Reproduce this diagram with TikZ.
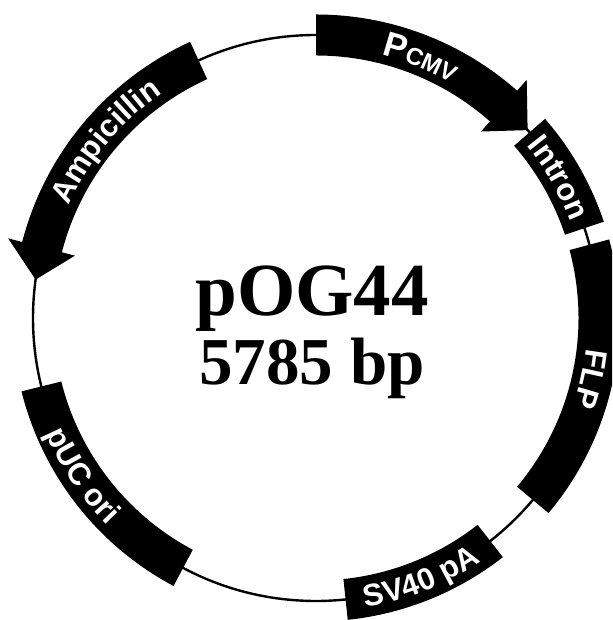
\documentclass[tikz,border=0pt]{standalone}
\usepackage{fontspec}
\setmainfont{Liberation Serif}
\setsansfont{Liberation Sans}
\usetikzlibrary{decorations.text}

\newcommand\rin{262.5pt}
\newcommand\rout{303.5pt}
\newcommand\rmid{283pt}
\newcommand\hin{249pt}
\newcommand\hout{318pt}
\newcommand\lbl{\color{white}\sffamily\bfseries\fontsize{31}{31}\selectfont}
\newcommand\lblP{\color{white}\sffamily\bfseries\fontsize{35}{35}\selectfont}
\newcommand\lblcmv{\color{white}\sffamily\bfseries\fontsize{24}{24}\selectfont}
\newcommand\featbox[2]{\fill (#1:\rin) arc[start angle=#1,end angle=#2,radius=\rin] -- (#2:\rout) arc[start angle=#2,end angle=#1,radius=\rout] -- cycle;}
\newcommand\featarrow[3]{\fill (#1:\rin) arc[start angle=#1,end angle=#2,radius=\rin] -- (#2:\hin) -- (#3:\rmid) -- (#2:\hout) -- (#2:\rout) arc[start angle=#2,end angle=#1,radius=\rout] -- cycle;}

\tikzset{
  backbone/.style={line width=2.4pt, draw=black},
  title/.style={inner sep=0pt, anchor=base, font=\bfseries},
  arclabel/.style={decorate, decoration={text along path, text align=center, text={#1}}}
}

\begin{document}
\begin{tikzpicture}
\useasboundingbox (0,0) rectangle (612pt,620pt);
\clip (0,0) rectangle (612pt,620pt);
\begin{scope}[shift={(316pt,302pt)}]
  \draw[backbone] (0,0) circle[radius=\rmid];
  % features
  \featarrow{90}{48.5}{41.6}     % PCMV
  \featbox{41}{18.5}             % Intron
  \featbox{15}{-40}              % FLP
  \featbox{-52}{-84}             % SV40 pA
  \featbox{-118}{-166}           % pUC ori
  \featarrow{114.5}{165.5}{172.2}% Ampicillin
  % labels
  \path[arclabel={|\lblP|P|\lblcmv|CMV}] (90:271pt) arc[start angle=90,end angle=46,radius=271pt];
  \path[arclabel={|\lbl|Intron}] (42:272pt) arc[start angle=42,end angle=18,radius=272pt];
  \path[arclabel={|\lbl|FLP}] (10:272pt) arc[start angle=10,end angle=-35,radius=272pt];
  \path[arclabel={|\lbl|SV40 pA}] (-90:294pt) arc[start angle=-90,end angle=-46,radius=294pt];
  \path[arclabel={|\lbl|pUC ori}] (190:294pt) arc[start angle=190,end angle=238,radius=294pt];
  \path[arclabel={|\lbl|Ampicillin}] (168:272pt) arc[start angle=168,end angle=112,radius=272pt];
\end{scope}
\node[title, font=\bfseries\fontsize{75}{75}\selectfont] (name) at (312pt,304pt) {pOG44};
\node[title, font=\bfseries\fontsize{67}{67}\selectfont] (size) at (312pt,235pt) {5785 bp};
\end{tikzpicture}
\end{document}
